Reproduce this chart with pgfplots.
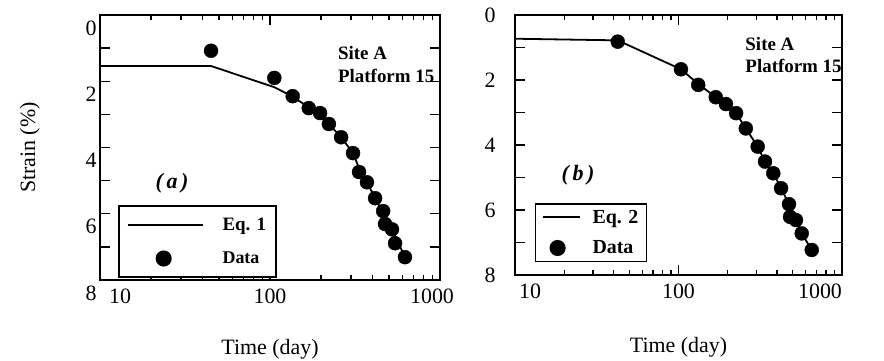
\documentclass[border=0pt]{standalone}
\usepackage{fontspec}
\setmainfont{Liberation Serif}
\usepackage{pgfplots}
\pgfplotsset{compat=1.18}
\pgfplotsset{
 every axis/.append style={
  scale only axis, xmode=log, xmin=10, xmax=1000, ymin=0, ymax=8, y dir=reverse,
  axis line style={line width=1.8bp},
  tick style={black, line width=1.4bp},
  major tick length=10bp, minor tick length=5bp,
  xtick={10,100,1000},
  minor xtick={20,30,40,50,60,70,80,90,200,300,400,500,600,700,800,900},
  ytick={0,1,2,3,4,5,6,7,8}, yticklabels={0,,2,,4,,6,,8},
  tick align=inside, tick pos=both,
  /pgf/number format/assume math mode=true,
  tick label style={font=\fontsize{22}{22}\selectfont},
  label style={font=\fontsize{22}{22}\selectfont},
  legend cell align=left,
  clip=false,
 },
}
\begin{document}
\begin{tikzpicture}
\useasboundingbox (0,0) rectangle (884bp,361bp);
% ---------- panel (a)
\begin{axis}[at={(100bp,81bp)}, anchor=south west, width=340bp, height=265bp,
  xticklabels={\hspace*{40bp}10, 100, 1000\hspace*{16bp}},
  xticklabel style={yshift=-5bp},
  yticklabel style={yshift=-13bp},
  xlabel={Time (day)}, ylabel={Strain (\%)},
  xlabel style={at={(axis description cs:0.5,0)}, anchor=north, yshift=-56bp},
  ylabel style={at={(axis description cs:-0.206,0.5)}, anchor=center},
  legend style={at={(0.053,0.008)}, anchor=south west, draw=black, line width=1.5bp,
    font=\bfseries\fontsize{19}{19}\selectfont,
    row sep=16bp, inner xsep=8bp, inner ysep=10bp,
    /tikz/every odd column/.append style={column sep=17bp}},
]
\addplot[black, line width=1.8bp,
  legend image code/.code={\draw[black,line width=1.8bp] (0bp,0bp) -- (75bp,0bp);}]
  coordinates {(10,1.54) (45,1.54) (106,2.18) (131,2.42) (169,2.78) (222,3.29) (262,3.69)
  (308,4.17) (334,4.62) (372,5.05) (415,5.53) (463,5.98) (522,6.47) (622,7.31)};
\addlegendentry{Eq. 1}
\addplot[only marks, mark=*, mark size=7bp, black,
  legend image code/.code={\fill[black] (36bp,0bp) circle (7.3bp);}]
  coordinates {(45,1.08) (106,1.90) (136,2.45) (169,2.81) (197,2.96) (222,3.29) (262,3.69)
  (308,4.17) (334,4.74) (372,5.05) (415,5.53) (463,5.92) (475,6.31) (522,6.47) (544,6.89) (622,7.31)};
\addlegendentry{\fontsize{18}{18}\selectfont Data}
\node[anchor=west, align=left, font=\bfseries\fontsize{19}{23}\selectfont] at (axis description cs:0.69,0.813) {Site A\\Platform 15};
\node[font=\bfseries\itshape\fontsize{22}{22}\selectfont] at (axis description cs:0.212,0.366) {(\,a\,)};
\end{axis}
% ---------- panel (b)
\begin{axis}[at={(515bp,86bp)}, anchor=south west, width=327bp, height=260bp,
  xticklabels={\hspace*{30bp}10, 100, 1000\hspace*{44bp}},
  xticklabel style={yshift=-5bp},
  yticklabel style={xshift=-16bp},
  xlabel={Time (day)},
  xlabel style={at={(axis description cs:0.5,0)}, anchor=north, yshift=-59bp},
  legend style={at={(0.061,0.05)}, anchor=south west, draw=black, line width=1.5bp,
    font=\bfseries\fontsize{20}{20}\selectfont,
    row sep=12bp, inner xsep=6bp, inner ysep=4bp,
    /tikz/every odd column/.append style={column sep=10bp}},
]
\addplot[black, line width=1.8bp,
  legend image code/.code={\draw[black,line width=1.8bp] (0bp,0bp) -- (37bp,0bp);}]
  coordinates {(10,0.73) (42.5,0.78) (103.5,1.67) (132,2.12) (169,2.53) (225,3.02) (258,3.49)
  (305,4.05) (338,4.51) (380,4.87) (424,5.33) (474,5.82) (523,6.31) (567,6.72) (653,7.23)};
\addlegendentry{Eq. 2}
\addplot[only marks, mark=*, mark size=7bp, black,
  legend image code/.code={\fill[black] (15bp,0bp) circle (7.3bp);}]
  coordinates {(42.5,0.82) (103.5,1.67) (132,2.15) (169,2.53) (195,2.74) (225,3.02) (258,3.49)
  (305,4.05) (338,4.51) (380,4.87) (424,5.33) (474,5.82) (481,6.21) (523,6.31) (567,6.72) (653,7.23)};
\addlegendentry{Data}
\node[anchor=west, align=left, font=\bfseries\fontsize{19}{23}\selectfont] at (axis description cs:0.694,0.846) {Site A\\Platform 15};
\node[font=\bfseries\itshape\fontsize{22}{22}\selectfont] at (axis description cs:0.193,0.385) {(\,b\,)};
\end{axis}
\end{tikzpicture}
\end{document}
